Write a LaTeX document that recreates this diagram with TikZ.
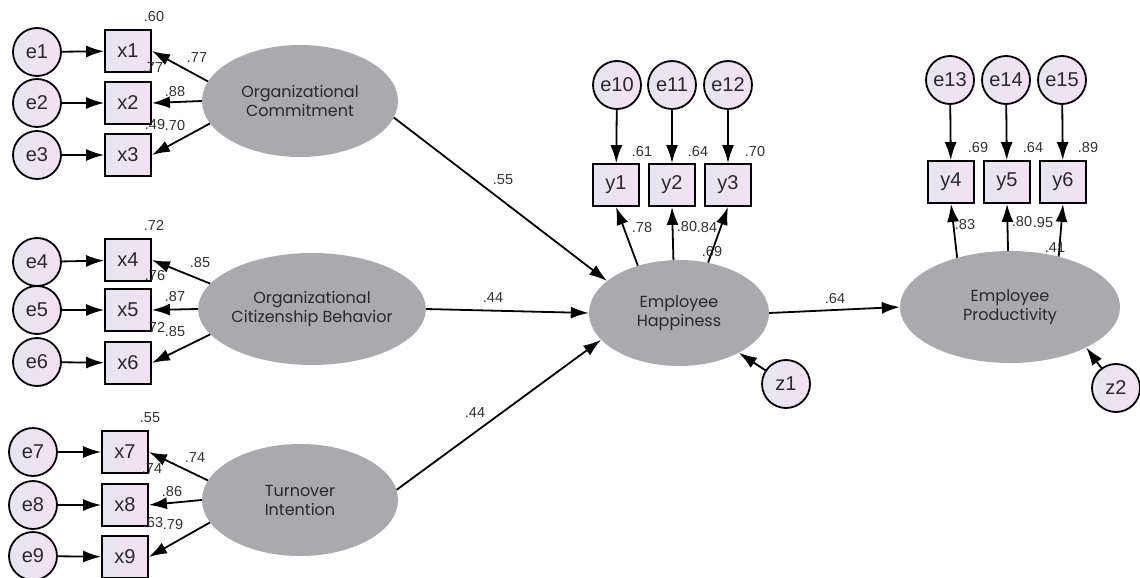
\documentclass[tikz,border=0pt]{standalone}
\usepackage{fontspec}
\setmainfont{Liberation Sans}
\newfontfamily\latfont{Poppins}
\usetikzlibrary{shapes.geometric,arrows.meta}
\definecolor{latgray}{RGB}{170,169,174}
\definecolor{boxblue}{RGB}{230,230,242}
\definecolor{boxpink}{RGB}{243,224,243}
\definecolor{txtgray}{RGB}{40,40,45}
\definecolor{lblgray}{RGB}{50,50,50}

\begin{document}
\begin{tikzpicture}[
  x=1pt,y=-1pt,
  latent/.style={ellipse,fill=latgray,minimum width=196pt,minimum height=112pt,inner sep=0pt,align=center,text=txtgray,font=\latfont\fontsize{16}{19}\selectfont},
  obs/.style={draw,line width=1.8pt,left color=boxblue,right color=boxpink,minimum width=46pt,minimum height=42pt,inner sep=0pt,text=txtgray,font=\fontsize{20}{22}\selectfont},
  err/.style={circle,draw,line width=1.8pt,left color=boxblue,right color=boxpink,minimum size=48pt,inner sep=0pt,text=txtgray,font=\fontsize{20}{22}\selectfont},
  arr/.style={-{Latex[length=18pt,width=12pt]},line width=1.8pt},
  lbl/.style={font=\fontsize{14.5}{16}\selectfont,text=lblgray,inner sep=0pt},
]
\useasboundingbox (0,0) rectangle (1140,578);

% latent variables
\node[latent] (oc) at (300,101) {Organizational\\Commitment};
\node[latent] (ocb) at (312,309) {Organizational\\Citizenship Behavior};
\node[latent] (ti) at (300,500) {Turnover\\Intention};
\node[latent,minimum width=180pt,minimum height=106pt] (eh) at (679,313) {Employee\\Happiness};
\node[latent,minimum width=220pt,minimum height=112pt] (ep) at (1010,307) {Employee\\Productivity};

% indicators and errors, left side
\node[obs] (x1) at (128,51) {x1};
\node[obs] (x2) at (128,103) {x2};
\node[obs] (x3) at (128,155) {x3};
\node[obs] (x4) at (128,260) {x4};
\node[obs] (x5) at (128,310) {x5};
\node[obs] (x6) at (128,363) {x6};
\node[obs] (x7) at (125,452) {x7};
\node[obs] (x8) at (125,505) {x8};
\node[obs] (x9) at (125,557) {x9};
\node[err] (e1) at (37,52) {e1};
\node[err] (e2) at (37,103) {e2};
\node[err] (e3) at (37,155) {e3};
\node[err] (e4) at (37,262) {e4};
\node[err] (e5) at (37,310) {e5};
\node[err] (e6) at (37,362) {e6};
\node[err] (e7) at (33,452) {e7};
\node[err] (e8) at (33,505) {e8};
\node[err] (e9) at (33,556) {e9};

% indicators and errors, top
\node[obs] (y1) at (616,185) {y1};
\node[obs] (y2) at (672,185) {y2};
\node[obs] (y3) at (728,185) {y3};
\node[obs] (y4) at (951,182) {y4};
\node[obs] (y5) at (1007,182) {y5};
\node[obs] (y6) at (1063,182) {y6};
\node[err] (e10) at (617,85) {e10};
\node[err] (e11) at (672,85) {e11};
\node[err] (e12) at (728,85) {e12};
\node[err] (e13) at (950,80) {e13};
\node[err] (e14) at (1006,80) {e14};
\node[err] (e15) at (1062,80) {e15};
\node[err] (z1) at (786,384) {z1};
\node[err] (z2) at (1116,388) {z2};

% error arrows
\foreach \i in {1,...,9} \draw[arr] (e\i) -- (x\i);
\foreach \e/\y in {10/1,11/2,12/3,13/4,14/5,15/6} \draw[arr] (e\e) -- (y\y);
\draw[arr] (z1) -- (eh);
\draw[arr] (z2) -- (ep.-28);

% loadings
\draw[arr] (oc.168) -- (x1.east);
\draw[arr] (oc.west) -- (x2.east);
\draw[arr] (oc.194) -- (x3.east);
\draw[arr] (ocb.166) -- (x4.east);
\draw[arr] (ocb.west) -- (x5.east);
\draw[arr] (ocb.194) -- (x6.east);
\draw[arr] (ti.168) -- (x7.east);
\draw[arr] (ti.west) -- (x8.east);
\draw[arr] (ti.194) -- (x9.east);
\draw[arr] (eh.131) -- (y1.south);
\draw[arr] (eh.96) -- (y2.south);
\draw[arr] (eh.60) -- (y3.south);
\draw[arr] (ep.137) -- (y4.south);
\draw[arr] (ep.92) -- (y5.south);
\draw[arr] (ep.46) -- (y6.south);

% structural paths
\draw[arr] (oc.-10) -- (eh.156);
\draw[arr] (ocb.east) -- (eh.west);
\draw[arr] (ti.6) -- (eh.199);
\draw[arr] (eh.east) -- (ep.west);

% estimates
\node[lbl] (r1) at (154,17) {.60};
\node[lbl] (l1) at (197,58) {.77};
\node[lbl] (r2) at (153,68) {.77};
\node[lbl] (l2) at (175,92) {.88};
\node[lbl] (r3) at (155,125) {.49};
\node[lbl] (l3) at (175,126) {.70};
\node[lbl] (r4) at (154,225) {.72};
\node[lbl] (l4) at (200,263) {.85};
\node[lbl] (r5) at (155,276) {.76};
\node[lbl] (l5) at (175,297) {.87};
\node[lbl] (r6) at (155,327) {.72};
\node[lbl] (l6) at (175,332) {.85};
\node[lbl] (r7) at (150,418) {.55};
\node[lbl] (l7) at (195,458) {.74};
\node[lbl] (r8) at (152,469) {.74};
\node[lbl] (l8) at (172,492) {.86};
\node[lbl] (r9) at (153,523) {.63};
\node[lbl] (l9) at (173,525) {.79};
\node[lbl] (ry1) at (642,152) {.61};
\node[lbl] (ry2) at (698,152) {.64};
\node[lbl] (ry3) at (755,152) {.70};
\node[lbl] (ly1) at (642,228) {.78};
\node[lbl] (ly2) at (687,227) {.80};
\node[lbl] (ly3) at (707,228) {.84};
\node[lbl] (reh) at (712,252) {.69};
\node[lbl] (ry4) at (978,148) {.69};
\node[lbl] (ry5) at (1033,148) {.64};
\node[lbl] (ry6) at (1088,148) {.89};
\node[lbl] (ly4) at (965,225) {.83};
\node[lbl] (ly5) at (1022,222) {.80};
\node[lbl] (ly6) at (1043,223) {.95};
\node[lbl] (rep) at (1055,248) {.41};
\node[lbl] (b1) at (503,180) {.55};
\node[lbl] (b2) at (493,298) {.44};
\node[lbl] (b3) at (475,413) {.44};
\node[lbl] (b4) at (835,299) {.64};
\end{tikzpicture}
\end{document}
